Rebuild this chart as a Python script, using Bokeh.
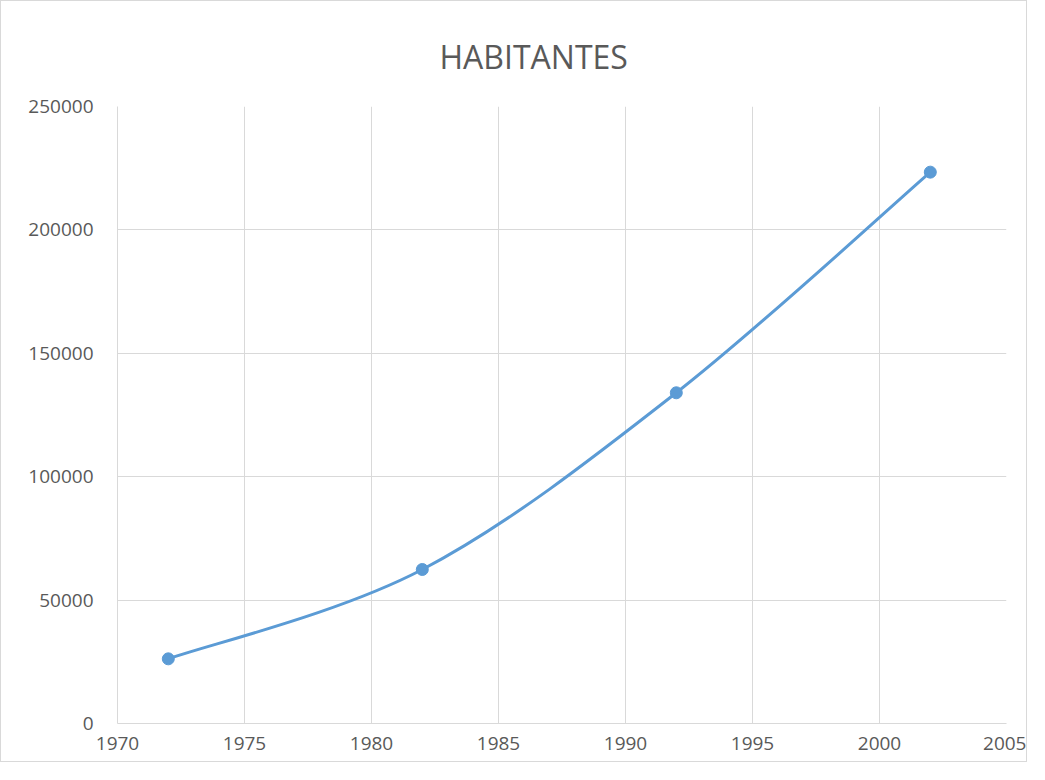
from bokeh.plotting import figure
from bokeh.models import FixedTicker, BasicTickFormatter, Range1d
from bokeh.embed import file_html
from bokeh.resources import INLINE

# Data
years = [1972, 1982, 1992, 2002]
habitantes = [26200, 62400, 134000, 223400]
x_ticks = [1970, 1975, 1980, 1985, 1990, 1995, 2000, 2005]
y_ticks = [0, 50000, 100000, 150000, 200000, 250000]
title_text = "HABITANTES"

LINE = "#5b9bd5"
GRID = "#d9d9d9"
TXT = "#595959"
FONT = "Open Sans"

p = figure(width=1027, height=762, output_backend="svg", toolbar_location=None,
           x_range=Range1d(1970, 2005), y_range=Range1d(0, 250000),
           min_border_left=116, min_border_right=22, min_border_top=105, min_border_bottom=40)
p.styles = {"border": "1px solid #d9d9d9"}
p.background_fill_color = "white"
p.border_fill_color = "white"
p.outline_line_color = None

p.title.text = title_text
p.title.align = "left"
p.title.offset = 322
p.title.text_font = FONT
p.title.text_font_size = "32px"
p.title.text_font_style = "normal"
p.title.text_color = TXT
p.title.standoff = 58
p.title.text_line_height = 0.8

for ax in (p.xaxis[0], p.yaxis[0]):
    ax.axis_line_color = GRID
    ax.axis_line_width = 1
    ax.major_tick_line_color = None
    ax.minor_tick_line_color = None
    ax.major_tick_out = 0
    ax.major_tick_in = 0
    ax.major_label_text_font = FONT
    ax.major_label_text_font_size = "19px"
    ax.major_label_text_color = TXT

p.xaxis.ticker = FixedTicker(ticks=x_ticks)
p.yaxis.ticker = FixedTicker(ticks=y_ticks)
p.yaxis.formatter = BasicTickFormatter(use_scientific=False)
p.xaxis.formatter = BasicTickFormatter(use_scientific=False)
p.xaxis.major_label_standoff = 13
p.yaxis.major_label_standoff = 24

p.xgrid.ticker = FixedTicker(ticks=x_ticks)
p.ygrid.ticker = FixedTicker(ticks=y_ticks)
for g in (p.xgrid[0], p.ygrid[0]):
    g.grid_line_color = GRID
    g.grid_line_width = 1

# Smoothed line (Catmull-Rom style Bezier segments, like Excel's smoothed scatter)
n = len(years)
x0, y0, x1, y1, cx0, cy0, cx1, cy1 = [], [], [], [], [], [], [], []
for i in range(n - 1):
    pm = max(i - 1, 0)
    pn = min(i + 2, n - 1)
    xa, ya = years[i], habitantes[i]
    xb, yb = years[i + 1], habitantes[i + 1]
    x0.append(xa); y0.append(ya); x1.append(xb); y1.append(yb)
    cx0.append(xa + (xb - years[pm]) / 6); cy0.append(ya + (yb - habitantes[pm]) / 6)
    cx1.append(xb - (years[pn] - xa) / 6); cy1.append(yb - (habitantes[pn] - ya) / 6)

p.bezier(x0=x0, y0=y0, x1=x1, y1=y1, cx0=cx0, cy0=cy0, cx1=cx1, cy1=cy1,
         line_color=LINE, line_width=3)
p.scatter(years, habitantes, size=12, marker="circle", fill_color=LINE, line_color=LINE)

open("out.html", "w").write(file_html(p, INLINE))
